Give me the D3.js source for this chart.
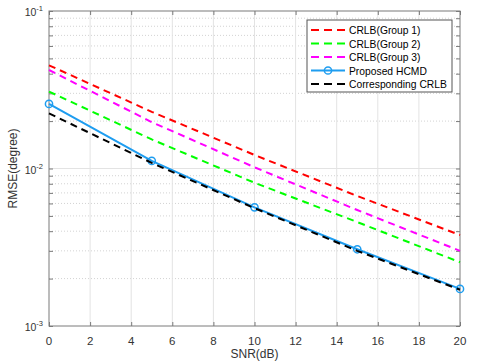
<!DOCTYPE html>
<html>
<head>
<meta charset="utf-8">
<script src="https://cdn.jsdelivr.net/npm/d3@7"></script>
<style>
  body { margin: 0; background: #fff; }
  svg { font-family: "Liberation Sans", Arial, sans-serif; }
</style>
</head>
<body>
<div id="rmse-graph"></div>
<script>
// data
const snr = [0, 5, 10, 15, 20];
const crlbGroup1 = [0.0452, 0.0229, 0.01219, 0.00669, 0.00378];
const crlbGroup2 = [0.0308, 0.0153, 0.00812, 0.00457, 0.00254];
const crlbGroup3 = [0.0422, 0.0197, 0.01018, 0.00545, 0.00300];
const proposedHcmd = [0.0257, 0.01117, 0.00567, 0.00307, 0.00172];
const correspondingCrlb = [0.0224, 0.01085, 0.00560, 0.00300, 0.00170];
const xTicks = [0, 2, 4, 6, 8, 10, 12, 14, 16, 18, 20];
const yTicks = [1e-3, 1e-2, 1e-1];
const seriesNames = ["CRLB(Group 1)", "CRLB(Group 2)", "CRLB(Group 3)", "Proposed HCMD", "Corresponding CRLB"];

const width = 485;
const height = 364;
const margin = { top: 11, right: 25, bottom: 38, left: 49 };

const series = [
  { name: seriesNames[0], values: crlbGroup1, color: "#ff0000", dash: "7,5", marker: false },
  { name: seriesNames[1], values: crlbGroup2, color: "#00ff00", dash: "7,5", marker: false },
  { name: seriesNames[2], values: crlbGroup3, color: "#ff00ff", dash: "7,5", marker: false },
  { name: seriesNames[3], values: proposedHcmd, color: "#1e9df0", dash: null, marker: true },
  { name: seriesNames[4], values: correspondingCrlb, color: "#000000", dash: "7,5", marker: false }
];

const svg = d3.select("#rmse-graph")
  .append("svg")
  .attr("width", width)
  .attr("height", height);

const xScale = d3.scaleLinear()
  .domain([0, 20])
  .range([margin.left, width - margin.right]);

const yScale = d3.scaleLog()
  .domain([1e-3, 1e-1])
  .range([height - margin.bottom, margin.top]);

const x0 = margin.left, x1 = width - margin.right;
const y0 = height - margin.bottom, y1 = margin.top;

// minor grid (dotted)
const minorTicks = [];
[1e-3, 1e-2].forEach(d => { for (let k = 2; k <= 9; k++) minorTicks.push(d * k); });

svg.append("g")
  .selectAll("line")
  .data(minorTicks)
  .enter()
  .append("line")
  .attr("x1", x0).attr("x2", x1)
  .attr("y1", d => yScale(d)).attr("y2", d => yScale(d))
  .attr("stroke", "#c8c8c8")
  .attr("stroke-width", 0.8)
  .attr("stroke-dasharray", "1,2");

// major grid
svg.append("g")
  .selectAll("line")
  .data(xTicks.slice(1, -1))
  .enter()
  .append("line")
  .attr("x1", d => xScale(d)).attr("x2", d => xScale(d))
  .attr("y1", y0).attr("y2", y1)
  .attr("stroke", "#e3e3e3")
  .attr("stroke-width", 1);

svg.append("g")
  .selectAll("line")
  .data(yTicks.slice(1, -1))
  .enter()
  .append("line")
  .attr("x1", x0).attr("x2", x1)
  .attr("y1", d => yScale(d)).attr("y2", d => yScale(d))
  .attr("stroke", "#e3e3e3")
  .attr("stroke-width", 1);

// axes (ticks inside, box on)
const axisColor = "#7a7a7a";
function styleAxis(g) {
  g.select(".domain").remove();
  g.selectAll(".tick line").attr("stroke", axisColor);
  g.selectAll(".tick text").remove();
}

svg.append("g")
  .attr("transform", `translate(0,${y0})`)
  .call(d3.axisTop(xScale).tickValues(xTicks).tickSize(4))
  .call(styleAxis);
svg.append("g")
  .attr("transform", `translate(0,${y1})`)
  .call(d3.axisBottom(xScale).tickValues(xTicks).tickSize(4))
  .call(styleAxis);
svg.append("g")
  .attr("transform", `translate(${x0},0)`)
  .call(d3.axisRight(yScale).tickValues(yTicks.concat(minorTicks)).tickSize(4))
  .call(styleAxis);
svg.append("g")
  .attr("transform", `translate(${x1},0)`)
  .call(d3.axisLeft(yScale).tickValues(yTicks.concat(minorTicks)).tickSize(4))
  .call(styleAxis);

svg.append("rect")
  .attr("x", x0).attr("y", y1)
  .attr("width", x1 - x0).attr("height", y0 - y1)
  .attr("fill", "none")
  .attr("stroke", axisColor)
  .attr("stroke-width", 1);

// tick labels
svg.append("g")
  .selectAll("text")
  .data(xTicks)
  .enter()
  .append("text")
  .attr("x", d => xScale(d))
  .attr("y", y0 + 19)
  .attr("text-anchor", "middle")
  .attr("font-size", "11.5px")
  .attr("fill", "#333")
  .text(d => d);

const yLabels = svg.append("g")
  .selectAll("text")
  .data(yTicks)
  .enter()
  .append("text")
  .attr("x", x0 - 6)
  .attr("y", d => yScale(d) + 5)
  .attr("text-anchor", "end")
  .attr("font-size", "10.5px")
  .attr("fill", "#333");
yLabels.append("tspan").text("10");
yLabels.append("tspan")
  .attr("dy", -5)
  .attr("font-size", "7.5px")
  .text(d => Math.round(Math.log10(d)));

// axis titles
svg.append("text")
  .attr("x", (x0 + x1) / 2)
  .attr("y", y0 + 32)
  .attr("text-anchor", "middle")
  .attr("font-size", "12px")
  .attr("fill", "#333")
  .text("SNR(dB)");

svg.append("text")
  .attr("transform", `translate(17,${(y0 + y1) / 2}) rotate(-90)`)
  .attr("text-anchor", "middle")
  .attr("font-size", "12px")
  .attr("fill", "#333")
  .text("RMSE(degree)");

// lines
const line = d3.line()
  .x((d, i) => xScale(snr[i]))
  .y(d => yScale(d));

const plot = svg.append("g");
series.forEach(s => {
  plot.append("path")
    .datum(s.values)
    .attr("fill", "none")
    .attr("stroke", s.color)
    .attr("stroke-width", 2)
    .attr("stroke-dasharray", s.dash)
    .attr("d", line);
  if (s.marker) {
    plot.selectAll(".marker")
      .data(s.values)
      .enter()
      .append("circle")
      .attr("cx", (d, i) => xScale(snr[i]))
      .attr("cy", d => yScale(d))
      .attr("r", 3.6)
      .attr("fill", "none")
      .attr("stroke", s.color)
      .attr("stroke-width", 1.5);
  }
});

// legend
const legend = svg.append("g").attr("transform", "translate(307,20)");
legend.append("rect")
  .attr("width", 145)
  .attr("height", 72)
  .attr("fill", "#fff")
  .attr("stroke", "#555")
  .attr("stroke-width", 1);

const rowY = d3.scalePoint()
  .domain(seriesNames)
  .range([10, 64]);

series.forEach(s => {
  const row = legend.append("g").attr("transform", `translate(0,${rowY(s.name)})`);
  row.append("line")
    .attr("x1", 4).attr("x2", 38)
    .attr("stroke", s.color)
    .attr("stroke-width", 2)
    .attr("stroke-dasharray", s.dash ? "8,5" : null);
  if (s.marker) {
    row.append("circle")
      .attr("cx", 21).attr("r", 3.6)
      .attr("fill", "none")
      .attr("stroke", s.color)
      .attr("stroke-width", 1.5);
  }
  row.append("text")
    .attr("x", 42)
    .attr("y", 4)
    .attr("font-size", "10.3px")
    .attr("fill", "#000")
    .text(s.name);
});
</script>
</body>
</html>
